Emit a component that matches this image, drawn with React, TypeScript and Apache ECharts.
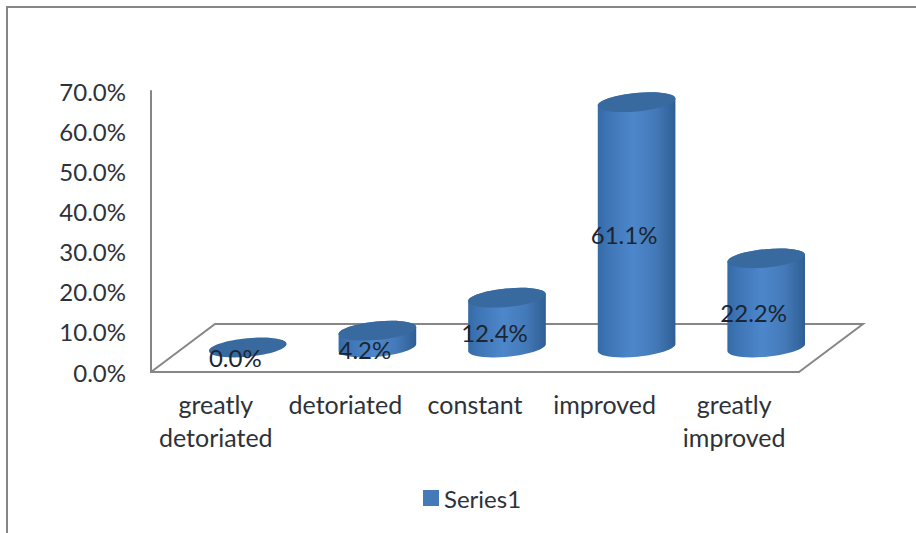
import React, { useEffect, useRef } from "react";
import * as echarts from "echarts";

const categories = ["greatly\ndetoriated", "detoriated", "constant", "improved", "greatly\nimproved"];
const percentages = [0.0, 4.2, 12.4, 61.1, 22.2];
const seriesName = "Series1";

const WIDTH = 916;
const HEIGHT = 533;
const FONT = "Lato";
const AXIS_GRAY = "#868686";
const TEXT = "#2e3238";

// Plot rectangle (the front face of the 3D floor)
const PLOT = { left: 151, top: 91, width: 648, height: 281 };
// Offset from the front edge of the floor to its back edge
const FLOOR_DX = 64;
const FLOOR_DY = -48;

// Cylinder shape, in pixels
const RX = 39;
const RY = 9.2;
const TILT = (-5.5 * Math.PI) / 180;
const KAPPA = 0.5523;

// Point on a tilted ellipse from its unit-circle coordinates
const ellipsePoint = (cx: number, cy: number, u: number, v: number) => {
  const x = u * RX;
  const y = v * RY;
  return [
    cx + x * Math.cos(TILT) - y * Math.sin(TILT),
    cy + x * Math.sin(TILT) + y * Math.cos(TILT),
  ];
};

// Cubic segment along a quarter of the ellipse, given unit-circle control points
const quarter = (cx: number, cy: number, p: number[][]) =>
  "C " + p.map(([u, v]) => ellipsePoint(cx, cy, u, v).join(" ")).join(" ") + " ";

// Lower half, left end to right end
const lowerHalf = (cx: number, cy: number) =>
  quarter(cx, cy, [[-1, KAPPA], [-KAPPA, 1], [0, 1]]) +
  quarter(cx, cy, [[KAPPA, 1], [1, KAPPA], [1, 0]]);

// Upper half, right end to left end
const upperHalf = (cx: number, cy: number) =>
  quarter(cx, cy, [[1, -KAPPA], [KAPPA, -1], [0, -1]]) +
  quarter(cx, cy, [[-KAPPA, -1], [-1, -KAPPA], [-1, 0]]);

const renderCylinder = (params: any, api: any) => {
  const value = api.value(1);
  const base = api.coord([api.value(0), 0]);
  const top = api.coord([api.value(0), value]);
  const cx = base[0] + FLOOR_DX / 2;
  const by = base[1] + FLOOR_DY / 2 - 0.5;
  const ty = top[1] + FLOOR_DY / 2 - 0.5;

  const moveTo = (cy: number) => ellipsePoint(cx, cy, -1, 0).join(" ");
  const lineTo = (cy: number, u: number) => ellipsePoint(cx, cy, u, 0).join(" ");

  const body =
    `M ${moveTo(ty)} L ${moveTo(by)} ` +
    lowerHalf(cx, by) +
    `L ${lineTo(ty, 1)} ` +
    upperHalf(cx, ty) +
    "Z";
  const cap = `M ${moveTo(ty)} ` + lowerHalf(cx, ty) + upperHalf(cx, ty) + "Z";

  const bodyFill = new echarts.graphic.LinearGradient(0, 0, 1, 0, [
    { offset: 0, color: "#356aa6" },
    { offset: 0.12, color: "#3d74b4" },
    { offset: 0.45, color: "#4d87cb" },
    { offset: 0.75, color: "#4379b8" },
    { offset: 1, color: "#2f5e93" },
  ]);

  const children: any[] = [];
  if (value > 0) {
    children.push({ type: "path", shape: { pathData: body }, style: { fill: bodyFill } });
  }
  children.push({ type: "path", shape: { pathData: cap }, style: { fill: "#386a9f" } });
  children.push({
    type: "text",
    z2: 10,
    style: {
      text: `${value.toFixed(1)}%`,
      x: cx - 12.5,
      y: (by + ty) / 2 + 10,
      align: "center",
      verticalAlign: "middle",
      fontFamily: FONT,
      fontSize: 24,
      fill: "#1d2532",
    },
  });
  return { type: "group", children };
};

export default function App() {
  const ref = useRef<HTMLDivElement>(null);

  useEffect(() => {
    if (!ref.current) return;
    const chart = echarts.init(ref.current, undefined, { renderer: "svg" });
    const frontY = PLOT.top + PLOT.height;
    const frontRight = PLOT.left + PLOT.width;
    const lineStyle = { stroke: AXIS_GRAY, lineWidth: 2, fill: "none" };

    chart.setOption({
      animation: false,
      backgroundColor: "#ffffff",
      textStyle: { fontFamily: FONT },
      grid: { ...PLOT, containLabel: false },
      legend: {
        data: [seriesName],
        left: 418,
        top: 481,
        icon: "rect",
        itemWidth: 16,
        itemHeight: 16,
        itemGap: 0,
        textStyle: { fontFamily: FONT, fontSize: 24, color: TEXT },
      },
      xAxis: {
        type: "category",
        data: categories,
        axisLine: { lineStyle: { color: AXIS_GRAY, width: 2 } },
        axisTick: { show: false },
        axisLabel: {
          interval: 0,
          margin: 15,
          fontFamily: FONT,
          fontSize: 25,
          lineHeight: 33,
          color: TEXT,
          hideOverlap: false,
        },
      },
      yAxis: {
        type: "value",
        min: 0,
        max: 70,
        interval: 10,
        axisLine: { show: true, lineStyle: { color: AXIS_GRAY, width: 2 } },
        axisTick: { show: false },
        splitLine: { show: false },
        axisLabel: {
          margin: 25,
          padding: [2, 0, 0, 0],
          fontFamily: FONT,
          fontSize: 24,
          color: TEXT,
          formatter: (v: number) => `${v.toFixed(1)}%`,
        },
      },
      graphic: [
        // Outer chart border, cut off by the right and bottom page edges
        {
          type: "polyline",
          z: 0,
          shape: { points: [[7, HEIGHT], [7, 7], [WIDTH, 7]] },
          style: lineStyle,
        },
        // Floor of the 3D plot
        {
          type: "polyline",
          z: 0,
          shape: {
            points: [
              [PLOT.left, frontY],
              [PLOT.left + FLOOR_DX, frontY + FLOOR_DY],
              [frontRight + FLOOR_DX, frontY + FLOOR_DY],
              [frontRight, frontY],
            ],
          },
          style: lineStyle,
        },
      ],
      series: [
        {
          type: "custom",
          name: seriesName,
          z: 5,
          itemStyle: { color: "#4579b8" },
          encode: { x: 0, y: 1 },
          data: percentages.map((v, i) => [i, v]),
          renderItem: renderCylinder,
        },
      ],
    });
    return () => chart.dispose();
  }, []);

  return (
    <div
      ref={ref}
      style={{ position: "absolute", left: 0, top: 0, width: WIDTH, height: HEIGHT }}
    />
  );
}
